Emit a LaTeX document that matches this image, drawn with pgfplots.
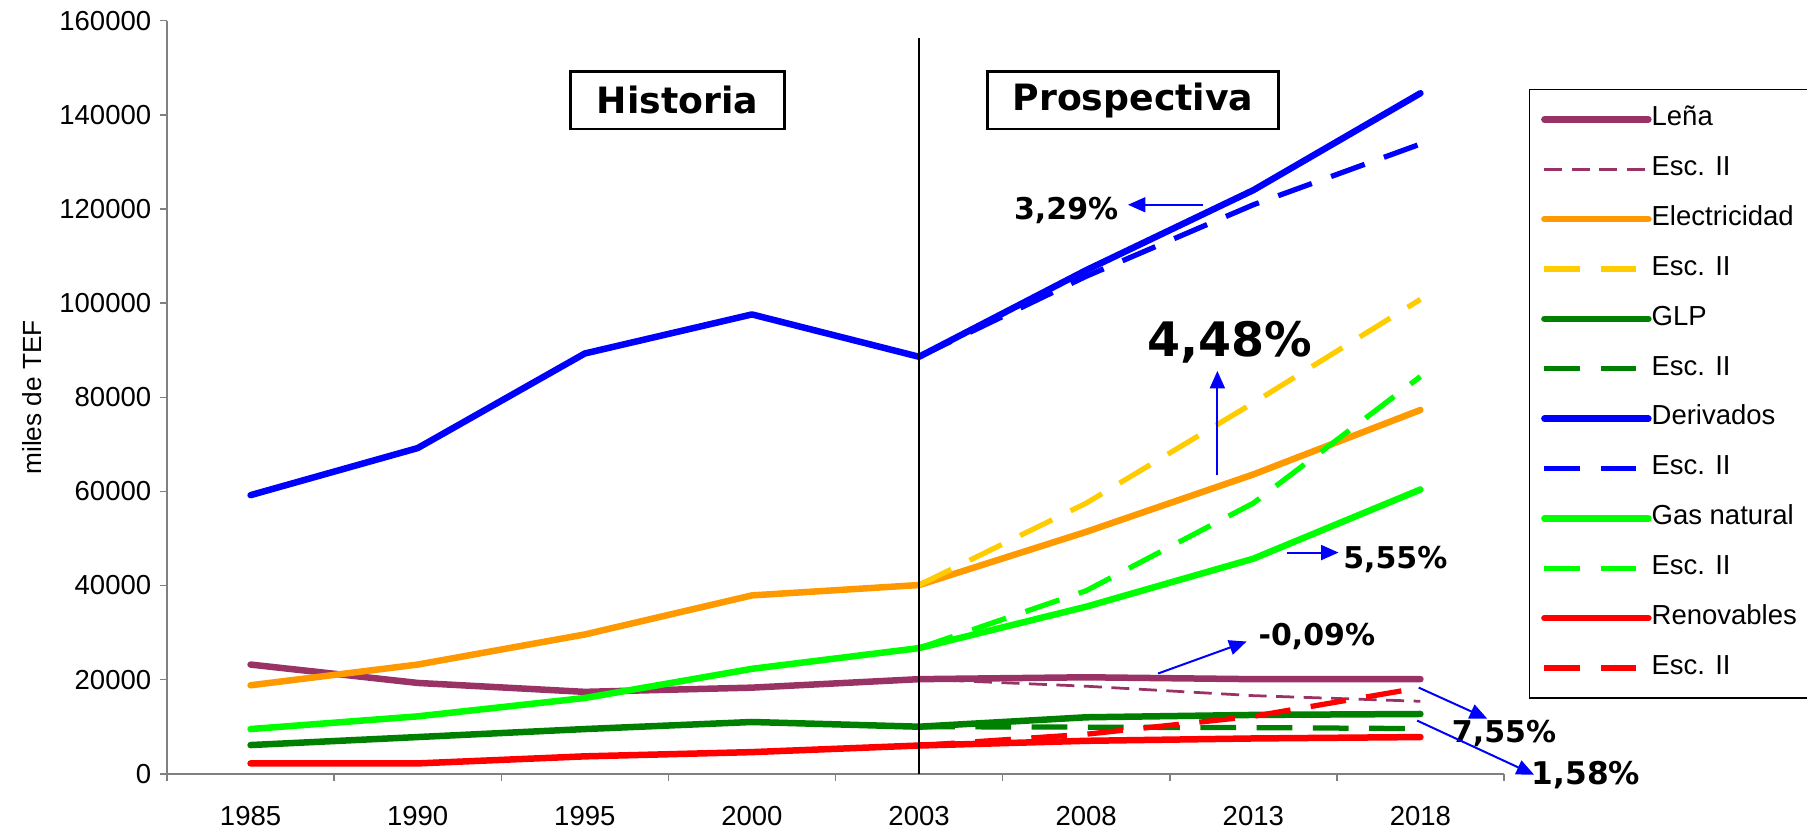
\documentclass[border=0pt]{standalone}
\usepackage{pgfplots}
\pgfplotsset{compat=1.18}
\usepackage{fontspec}
\setmainfont{Liberation Sans}
\newfontfamily\verd{DejaVu Sans}
\usetikzlibrary{arrows.meta}
\definecolor{lena}{HTML}{993366}
\definecolor{elec}{HTML}{FF9900}
\definecolor{elecII}{HTML}{FFCC00}
\definecolor{glp}{HTML}{008000}
\definecolor{deriv}{HTML}{0000FF}
\definecolor{gasn}{HTML}{00FF00}
\definecolor{renov}{HTML}{FF0000}
\definecolor{axgray}{HTML}{808080}
\begin{document}
\begin{tikzpicture}
\begin{axis}[
  name=ax,
  width=534.8pt, height=301.2pt, scale only axis,
  xmin=-0.5, xmax=7.5, ymin=0, ymax=160000,
  axis lines*=left,
  axis line style={draw=axgray, line width=0.6pt},
  clip=false,
  xtick={0,1,2,3,4,5,6,7},
  xticklabels={1985,1990,1995,2000,2003,2008,2013,2018},
  xticklabel style={yshift=-6.5pt},
  minor xtick={-0.5,0.5,1.5,2.5,3.5,4.5,5.5,6.5,7.5},
  ytick={0,20000,...,160000},
  scaled y ticks=false,
  yticklabel style={/pgf/number format/fixed, /pgf/number format/1000 sep={}},
  /pgf/number format/assume math mode=true,
  tick align=outside,
  major tick length=2.8pt, minor tick length=2.8pt,
  tick style={axgray, line width=0.6pt},
  every major x tick/.append style={draw=none},
  tick label style={font=\fontsize{11}{13}\selectfont, text=black},
  ylabel={miles de TEF},
  ylabel style={at={(axis description cs:-0.101,0.5)}, anchor=center, font=\fontsize{10.5}{12}\selectfont},
  legend cell align=left,
  legend image code/.code={\draw[#1] (0pt,0pt) -- (41.6pt,0pt);},
  legend style={at={(1.0187,0.9097)}, anchor=north west, draw=black, line width=0.5pt,
    font=\fontsize{11}{13}\selectfont, inner xsep=4.6pt, inner ysep=7pt, row sep=9.95pt,
    nodes={inner sep=0pt, text height=7.5pt, text depth=2.5pt},
    /tikz/every even column/.append style={column sep=2.8pt}},
  solid line/.style={line width=2.6pt, line cap=round, line join=round},
  dash line/.style={line width=2.1pt, dash pattern=on 14.3pt off 8.2pt},
]
\addplot[lena, solid line] coordinates {(0,23200)(1,19300)(2,17400)(3,18300)(4,20100)(5,20500)(6,20100)(7,20100)};
\addlegendentry{Leña}
\addplot[lena, line width=1.1pt, dash pattern=on 7.2pt off 3.8pt] coordinates {(4,20100)(5,18600)(6,16600)(7,15400)};
\addlegendentry{Esc. II}
\addplot[elec, solid line] coordinates {(0,18800)(1,23200)(2,29600)(3,37900)(4,40100)(5,51400)(6,63600)(7,77300)};
\addlegendentry{Electricidad}
\addplot[elecII, dash line] coordinates {(4,40100)(5,57500)(6,78800)(7,100800)};
\addlegendentry{Esc. II}
\addplot[glp, solid line] coordinates {(0,6100)(1,7800)(2,9500)(3,11000)(4,10000)(5,12000)(6,12500)(7,12700)};
\addlegendentry{GLP}
\addplot[glp, dash line] coordinates {(4,10000)(5,9900)(6,9800)(7,9600)};
\addlegendentry{Esc. II}
\addplot[deriv, solid line] coordinates {(0,59200)(1,69200)(2,89300)(3,97600)(4,88600)(5,107000)(6,124000)(7,144600)};
\addlegendentry{Derivados}
\addplot[deriv, dash line] coordinates {(4,88600)(5,105700)(6,120900)(7,133800)};
\addlegendentry{Esc. II}
\addplot[gasn, solid line] coordinates {(0,9500)(1,12200)(2,16100)(3,22300)(4,26700)(5,35500)(6,45700)(7,60400)};
\addlegendentry{Gas natural}
\addplot[gasn, dash line] coordinates {(4,26700)(5,38900)(6,57500)(7,84400)};
\addlegendentry{Esc. II}
\addplot[renov, solid line] coordinates {(0,2200)(1,2200)(2,3700)(3,4600)(4,6000)(5,7000)(6,7500)(7,7800)};
\addlegendentry{Renovables}
\addplot[renov, dash line] coordinates {(4,6000)(5,8400)(6,12200)(7,18300)};
\addlegendentry{Esc. II}

\draw[black, line width=0.6pt] (axis cs:4,0) -- (axis cs:4,156300);

\node[draw=black, line width=1pt, fill=white, inner xsep=10.5pt, minimum height=23pt, font=\verd\bfseries\fontsize{14.5}{16}\selectfont] at (axis cs:2.555,143100) {Historia};
\node[draw=black, line width=1pt, fill=white, inner xsep=10pt, minimum height=23pt, font=\verd\bfseries\fontsize{14.5}{16}\selectfont] at (axis cs:5.28,143100) {Prospectiva};

\begin{scope}[font=\verd\bfseries\fontsize{12}{14}\selectfont]
\node at (axis cs:4.88,119600) {3,29\%};
\node[font=\verd\bfseries\fontsize{19}{22}\selectfont] at (axis cs:5.86,91700) {4,48\%};
\node at (axis cs:6.85,45500) {5,55\%};
\node at (axis cs:6.38,29100) {-0,09\%};
\node at (axis cs:7.50,8600) {7,55\%};
\node[font=\verd\bfseries\fontsize{12.5}{14}\selectfont] at (axis cs:7.99,-200) {1,58\%};
\end{scope}
\begin{scope}[deriv, line width=0.8pt, -{Triangle[length=7pt,width=6pt]}]
\draw (axis cs:5.70,120900) -- (axis cs:5.25,120900);
\draw (axis cs:5.785,63400) -- (axis cs:5.785,85600);
\draw (axis cs:6.20,47000) -- (axis cs:6.51,47000);
\draw (axis cs:5.43,21300) -- (axis cs:5.96,28100);
\draw (axis cs:6.99,18300) -- (axis cs:7.40,11700);
\draw (axis cs:6.98,11300) -- (axis cs:7.68,-200);
\end{scope}
\end{axis}
\pgfresetboundingbox
\path[use as bounding box] ([xshift=-66.8pt,yshift=-22.8pt]ax.south west) rectangle ([xshift=121.2pt,yshift=8.3pt]ax.north east);
\end{tikzpicture}
\end{document}
